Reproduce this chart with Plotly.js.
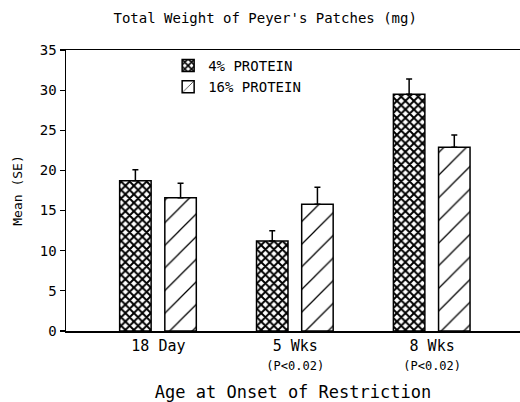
<!DOCTYPE html>
<html><head><meta charset="utf-8">
<script src="https://cdn.plot.ly/plotly-3.0.1.min.js"></script>
<style>body{margin:0;background:#fff}#c{width:520px;height:402px}</style>
</head><body><div id="c"></div>
<script>
var categories = [0, 1, 2];
var tickLabels = ["18 Day", "5 Wks<br><span style='font-size:12px'>(P&lt;0.02)</span>", "8 Wks<br><span style='font-size:12px'>(P&lt;0.02)</span>"];
var low = [18.7, 11.2, 29.5];
var lowSE = [1.4, 1.3, 1.9];
var high = [16.6, 15.8, 22.9];
var highSE = [1.8, 2.1, 1.5];
var zeros = [0, 0, 0];

var F = "DejaVu Sans Mono";
var traces = [
  {type:"bar", name:"4% PROTEIN", x:categories, y:low, width:0.23, offset:-0.283,
   marker:{color:"#fff", line:{color:"#000", width:1.5},
     pattern:{shape:"x", bgcolor:"#fff", fgcolor:"#000", size:6, solidity:0.55, fillmode:"replace"}},
   error_y:{type:"data", array:lowSE, arrayminus:zeros, symmetric:false, color:"#000", thickness:1.5, width:3}},
  {type:"bar", name:"16% PROTEIN", x:categories, y:high, width:0.23, offset:0.047,
   marker:{color:"#fff", line:{color:"#000", width:1.5},
     pattern:{shape:"/", bgcolor:"#fff", fgcolor:"#000", size:16, solidity:0.08, fillmode:"replace"}},
   error_y:{type:"data", array:highSE, arrayminus:zeros, symmetric:false, color:"#000", thickness:1.5, width:3}}
];
var layout = {
  width:520, height:402, margin:{l:66, r:0, t:50, b:71},
  paper_bgcolor:"#fff", plot_bgcolor:"#fff",
  font:{family:F, color:"#000", size:13},
  barmode:"overlay", showlegend:true,
  title:{text:"Total Weight of Peyer's Patches (mg)", x:0.51, xanchor:"center", y:0.955, yanchor:"middle", font:{family:F, size:14, color:"#000"}},
  xaxis:{range:[-0.675, 2.642], tickvals:categories, ticktext:tickLabels, showgrid:false, zeroline:false,
    showline:true, mirror:true, linecolor:"#000", linewidth:1.5, ticks:"", tickfont:{family:F, size:15},
    title:{text:"Age at Onset of Restriction", font:{family:F, size:17}, standoff:18}},
  yaxis:{range:[0, 35], dtick:5, showgrid:false, zeroline:false, showline:true, linecolor:"#000", linewidth:1.5,
    ticks:"outside", ticklen:5, tickwidth:1.2, tickcolor:"#000", tickfont:{family:F, size:14},
    title:{text:"Mean (SE)", font:{family:F, size:13}, standoff:14}},
  legend:{x:0.225, y:1.0, xanchor:"left", yanchor:"top", bgcolor:"rgba(0,0,0,0)", font:{family:F, size:14}, itemwidth:30, tracegroupgap:0}
};
Plotly.newPlot("c", traces, layout, {displayModeBar:false, staticPlot:true});
</script></body></html>
